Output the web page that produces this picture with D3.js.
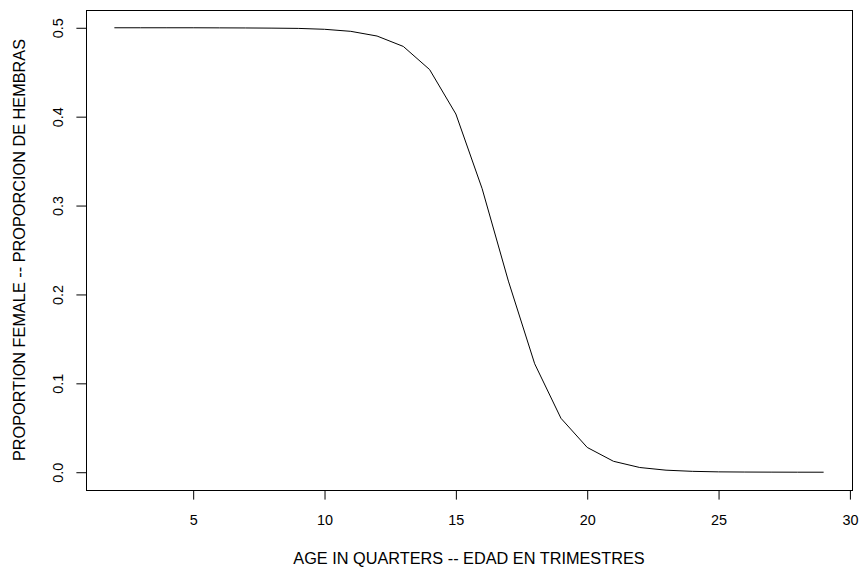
<!DOCTYPE html>
<html>
<head>
<meta charset="utf-8">
<script src="https://cdn.jsdelivr.net/npm/d3@7"></script>
<style>
  body { margin: 0; background: #fff; }
  svg text { font-family: "Liberation Sans", Arial, sans-serif; fill: #000; }
</style>
</head>
<body>
<svg id="chart" width="862" height="567"></svg>
<script>
// age in quarters and proportion female
const ages = [2, 3, 4, 5, 6, 7, 8, 9, 10, 11, 12, 13, 14, 15, 16, 17, 18, 19, 20, 21, 22, 23, 24, 25, 26, 27, 28, 29];
const propFemale = [0.5, 0.5, 0.5, 0.5, 0.4999, 0.4998, 0.4996, 0.4993, 0.4983, 0.496, 0.4907, 0.479, 0.453, 0.403,
  0.319, 0.215, 0.122, 0.0607, 0.0279, 0.0123, 0.0053, 0.0023, 0.001, 0.0004, 0.0002, 0.0001, 0.00003, 0.00001];
const xTicks = [5, 10, 15, 20, 25, 30];
const yTicks = [0.0, 0.1, 0.2, 0.3, 0.4, 0.5];
const xTitle = 'AGE IN QUARTERS -- EDAD EN TRIMESTRES';
const yTitle = 'PROPORTION FEMALE -- PROPORCION DE HEMBRAS';

const margin = {top: 10, right: 10, bottom: 77, left: 86};
const width = 862, height = 567;
const w = width - margin.left - margin.right;
const h = height - margin.top - margin.bottom;

const svg = d3.select('#chart');
const main = svg.append('g')
  .attr('transform', `translate(${margin.left}, ${margin.top})`);

// R style 4% padding around the data range
const xPad = (d3.max(ages) - d3.min(ages)) * 0.04;
const xScale = d3.scaleLinear()
  .domain([d3.min(ages) - xPad, d3.max(ages) + xPad])
  .range([0, w]);

const yPad = 0.5 * 0.04;
const yScale = d3.scaleLinear()
  .domain([0 - yPad, 0.5 + yPad])
  .range([h, 0]);

// axes
const xaxis = main.append('g')
  .attr('transform', `translate(0, ${h})`)
  .call(d3.axisBottom(xScale)
    .tickValues(xTicks)
    .tickSize(9.6)
    .tickFormat(d3.format('d')));
xaxis.select('.domain').remove();
xaxis.selectAll('line').attr('stroke', '#000');
xaxis.selectAll('text')
  .attr('y', 35)
  .attr('dy', null)
  .style('font-size', '14.4px');

const yaxis = main.append('g')
  .call(d3.axisLeft(yScale)
    .tickValues(yTicks)
    .tickSize(9.6)
    .tickFormat(d3.format('.1f')));
yaxis.select('.domain').remove();
yaxis.selectAll('line').attr('stroke', '#000');
yaxis.selectAll('text')
  .attr('x', null)
  .attr('dy', null)
  .attr('text-anchor', 'middle')
  .attr('transform', 'translate(-23, 0) rotate(-90)')
  .style('font-size', '14.4px');

// plot box
main.append('rect')
  .attr('x', 0.5)
  .attr('y', 0.5)
  .attr('width', w)
  .attr('height', h)
  .attr('fill', 'none')
  .attr('stroke', '#000')
  .attr('stroke-width', 1);

// the curve
const line = d3.line()
  .x((d, i) => xScale(ages[i]))
  .y(d => yScale(d));

main.append('path')
  .datum(propFemale)
  .attr('d', line)
  .attr('fill', 'none')
  .attr('stroke', '#000')
  .attr('stroke-width', 1);

// titles
svg.append('text')
  .attr('x', margin.left + w / 2)
  .attr('y', 564)
  .attr('text-anchor', 'middle')
  .style('font-size', '16.3px')
  .text(xTitle);

svg.append('text')
  .attr('transform', `translate(25, ${margin.top + h / 2}) rotate(-90)`)
  .attr('text-anchor', 'middle')
  .style('font-size', '16.3px')
  .text(yTitle);
</script>
</body>
</html>
